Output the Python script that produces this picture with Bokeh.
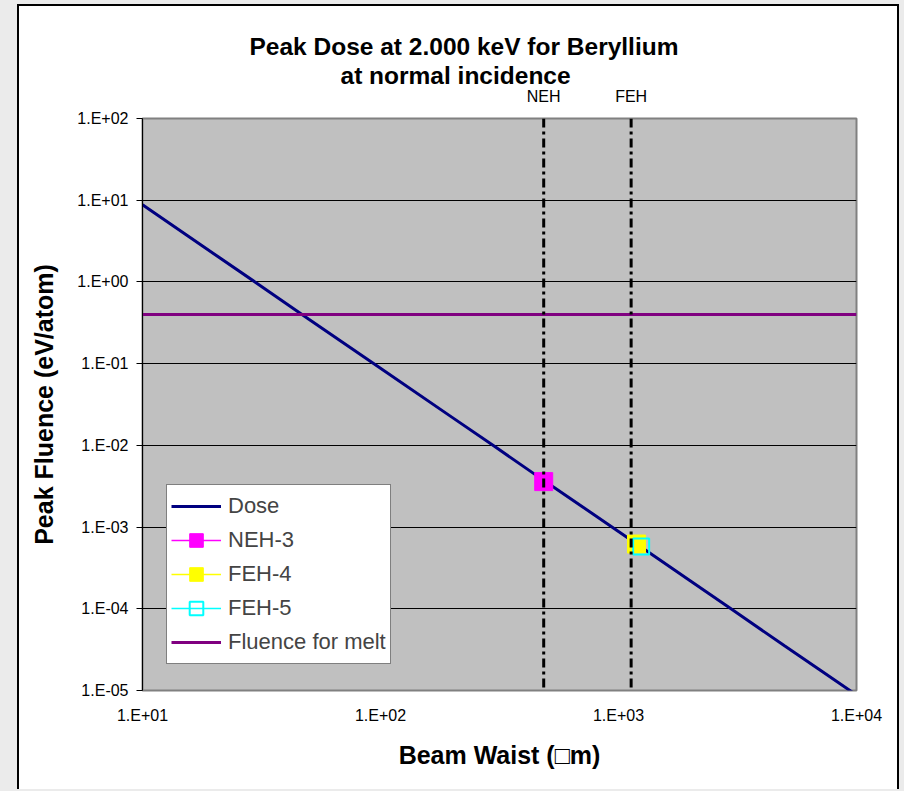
from bokeh.plotting import figure
from bokeh.models import Range1d, FixedTicker, Span, Legend, LegendItem, LogAxis, Title
from bokeh.layouts import column
from bokeh.embed import file_html
from bokeh.resources import INLINE

# ---------------- data ----------------
dose_waist = [10, 20, 30, 50, 100, 200, 300, 500, 700, 1000, 2000, 3000, 5000, 7000, 10000]
dose_fluence = [8.8, 2.2, 0.98, 0.35, 0.088, 0.022, 0.0098, 0.0035, 0.0018,
                8.8e-4, 2.2e-4, 9.8e-5, 3.5e-5, 1.8e-5, 8.8e-6]

melt_waist = [10, 10000]
melt_fluence = [0.4, 0.4]

neh3_waist = [485]
neh3_fluence = [3.6e-3]
feh4_waist = [1190]
feh4_fluence = [6.2e-4]
feh5_waist = [1245]
feh5_fluence = [5.8e-4]

hall_names = ["NEH", "FEH"]
hall_waist = [485, 1130]

x_ticks = [10, 100, 1000, 10000]
x_tick_labels = ["1.E+01", "1.E+02", "1.E+03", "1.E+04"]
y_ticks = [1e-5, 1e-4, 1e-3, 1e-2, 1e-1, 1e0, 1e1, 1e2]
y_tick_labels = ["1.E-05", "1.E-04", "1.E-03", "1.E-02", "1.E-01", "1.E+00", "1.E+01", "1.E+02"]

title_1 = "Peak Dose at 2.000 keV for Beryllium"
title_2 = "at normal incidence"
x_title = "Beam Waist (\u25a1m)"
y_title = "Peak Fluence (eV/atom)"

FONT = "Liberation Sans"

# ---------------- figure ----------------
p = figure(width=882, height=785, x_axis_type="log", y_axis_type="log",
           x_range=Range1d(10, 10000), y_range=Range1d(1e-5, 100),
           output_backend="svg", toolbar_location=None, title=None,
           min_border_left=123, min_border_right=45, min_border_top=112, min_border_bottom=101,
           background_fill_color="#C0C0C0", border_fill_color="white")
p.outline_line_color = "#808080"
p.outline_line_width = 2

# axes
xa = p.xaxis[0]
xa.ticker = FixedTicker(ticks=x_ticks)
xa.major_label_overrides = dict(zip(x_ticks, x_tick_labels))
xa.axis_line_color = None
xa.major_tick_line_color = None
xa.minor_tick_line_color = None
xa.major_label_standoff = 10
xa.major_label_text_font = FONT
xa.major_label_text_font_size = "16px"
xa.major_label_text_color = "black"
xa.axis_label = x_title
xa.axis_label_text_font = FONT
xa.axis_label_text_font_size = "25px"
xa.axis_label_text_font_style = "bold"
xa.axis_label_text_color = "black"
xa.axis_label_standoff = 14

ya = p.yaxis[0]
ya.ticker = FixedTicker(ticks=y_ticks)
ya.major_label_overrides = dict(zip(y_ticks, y_tick_labels))
ya.axis_line_color = "black"
ya.axis_line_width = 1
ya.major_tick_line_color = "black"
ya.major_tick_out = 6
ya.major_tick_in = 0
ya.minor_tick_line_color = None
ya.major_label_standoff = 8
ya.major_label_text_font = FONT
ya.major_label_text_font_size = "16px"
ya.major_label_text_color = "black"
ya.axis_label = y_title
ya.axis_label_text_font = FONT
ya.axis_label_text_font_size = "25px"
ya.axis_label_text_font_style = "bold"
ya.axis_label_text_color = "black"
ya.axis_label_standoff = 16

p.xgrid.visible = False
p.ygrid.ticker = FixedTicker(ticks=y_ticks[1:-1])
p.ygrid.grid_line_color = "black"
p.ygrid.grid_line_width = 1

# hall labels (NEH / FEH) as an axis above the frame
hall_axis = LogAxis(ticker=FixedTicker(ticks=hall_waist),
                    major_label_overrides=dict(zip(hall_waist, hall_names)))
hall_axis.axis_line_color = None
hall_axis.major_tick_line_color = None
hall_axis.minor_tick_line_color = None
hall_axis.major_tick_out = 0
hall_axis.major_tick_in = 0
hall_axis.major_label_standoff = 14
hall_axis.major_label_text_font = FONT
hall_axis.major_label_text_font_size = "16px"
hall_axis.major_label_text_color = "black"
p.add_layout(hall_axis, "above")

# titles (second line closer to the plot, first line outermost)
p.add_layout(Title(text=title_2, align="left", offset=198, standoff=-9,
                   text_font=FONT, text_font_size="24.5px", text_font_style="bold",
                   text_color="black"), "above")
p.add_layout(Title(text=title_1, align="left", offset=107, standoff=10,
                   text_font=FONT, text_font_size="24.5px", text_font_style="bold",
                   text_color="black"), "above")

# ---------------- series ----------------
dose_r = p.line(dose_waist, dose_fluence, line_color="#000080", line_width=3)

neh3_l = p.line(neh3_waist, neh3_fluence, line_color="#FF00FF", line_width=1.5)
neh3_p = p.scatter(neh3_waist, neh3_fluence, marker="square", size=18,
                   fill_color="#FF00FF", line_color="#FF00FF")
feh4_l = p.line(feh4_waist, feh4_fluence, line_color="#FFFF00", line_width=1.5)
feh4_p = p.scatter(feh4_waist, feh4_fluence, marker="square", size=18,
                   fill_color="#FFFF00", line_color="#FFFF00")
feh5_l = p.line(feh5_waist, feh5_fluence, line_color="#00FFFF", line_width=1.5)
feh5_p = p.scatter(feh5_waist, feh5_fluence, marker="square", size=16,
                   fill_color=None, line_color="#00FFFF", line_width=2)

melt_r = p.line(melt_waist, melt_fluence, line_color="#800080", line_width=3)

for xw in hall_waist:
    p.add_layout(Span(location=xw, dimension="height", line_color="black",
                      line_width=3, line_dash="9 4 3 4"))

# legend
legend = Legend(items=[
    LegendItem(label="Dose", renderers=[dose_r]),
    LegendItem(label="NEH-3", renderers=[neh3_l, neh3_p]),
    LegendItem(label="FEH-4", renderers=[feh4_l, feh4_p]),
    LegendItem(label="FEH-5", renderers=[feh5_l, feh5_p]),
    LegendItem(label="Fluence for melt", renderers=[melt_r]),
], location=(24, 26))
legend.border_line_color = "black"
legend.border_line_width = 1
legend.background_fill_color = "white"
legend.background_fill_alpha = 1
legend.label_text_font = FONT
legend.label_text_font_size = "22px"
legend.glyph_width = 50
legend.glyph_height = 34
legend.label_height = 34
legend.spacing = 0
legend.padding = 4
legend.label_standoff = 7
legend.margin = 0
p.add_layout(legend, "center")

p.styles = {"border-left": "2px solid black", "border-right": "2px solid black",
            "border-top": "2px solid black",
            "box-shadow": "0 0 0 30px #EBEBEB"}

page = column(p, styles={"padding-left": "17px", "padding-top": "4px",
                         "padding-right": "3px"})

open("out.html", "w").write(file_html(page, INLINE))
